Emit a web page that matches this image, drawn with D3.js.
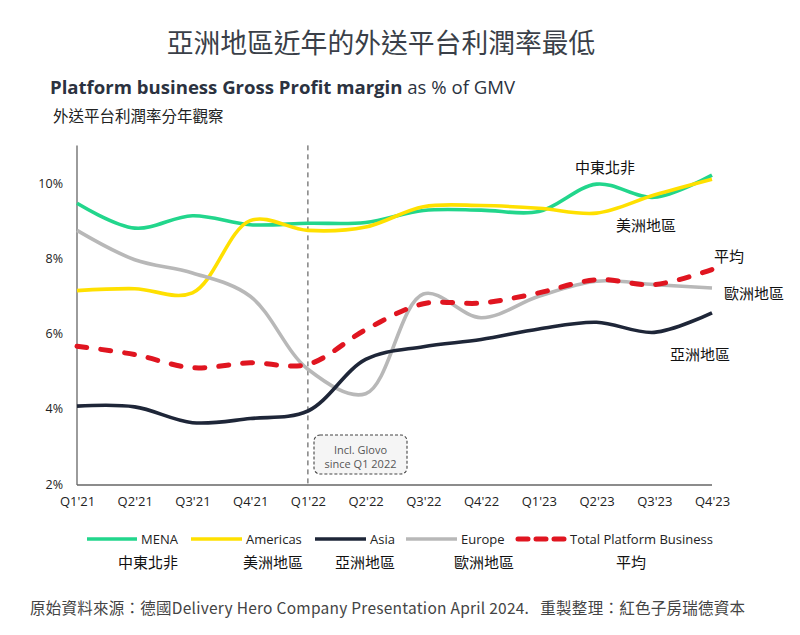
<!DOCTYPE html>
<html>
<head>
<meta charset="utf-8">
<script src="https://cdn.jsdelivr.net/npm/d3@7/dist/d3.min.js"></script>
<style>
  html, body { margin: 0; padding: 0; background: #fff; }
  svg { display: block; font-family: "Open Sans", "Noto Sans CJK TC", sans-serif; }
  .cjk { font-family: "Noto Sans CJK TC", "Noto Sans", sans-serif; }
</style>
</head>
<body>
<svg id="chart" width="800" height="635"></svg>
<script>
// ---------- data ----------
const quarters = ["Q1'21","Q2'21","Q3'21","Q4'21","Q1'22","Q2'22","Q3'22","Q4'22","Q1'23","Q2'23","Q3'23","Q4'23"];
const mena     = [9.46, 8.80, 9.13, 8.89, 8.93, 8.95, 9.27, 9.28, 9.24, 9.97, 9.62, 10.21];
const americas = [7.14, 7.19, 7.08, 9.00, 8.74, 8.83, 9.37, 9.40, 9.33, 9.20, 9.68, 10.10];
const asia     = [4.07, 4.05, 3.63, 3.74, 3.94, 5.31, 5.65, 5.84, 6.12, 6.30, 6.03, 6.55];
const europe   = [8.74, 7.96, 7.61, 6.99, 5.05, 4.40, 7.05, 6.42, 6.99, 7.39, 7.30, 7.21];
const total    = [5.66, 5.44, 5.09, 5.22, 5.18, 6.10, 6.79, 6.81, 7.08, 7.43, 7.30, 7.70];
const yTicks   = [2, 4, 6, 8, 10];
const seriesNames   = ["MENA", "Americas", "Asia", "Europe", "Total Platform Business"];
const seriesNamesZh = ["中東北非", "美洲地區", "亞洲地區", "歐洲地區", "平均"];

const series = [
  { name: seriesNames[0], zh: seriesNamesZh[0], values: mena,     color: "#22d68c", dash: null },
  { name: seriesNames[1], zh: seriesNamesZh[1], values: americas, color: "#ffe000", dash: null },
  { name: seriesNames[3], zh: seriesNamesZh[3], values: europe,   color: "#b8b8b8", dash: null },
  { name: seriesNames[2], zh: seriesNamesZh[2], values: asia,     color: "#1e2638", dash: null },
  { name: seriesNames[4], zh: seriesNamesZh[4], values: total,    color: "#e01520", dash: "10,14" }
];

// ---------- layout ----------
const svg = d3.select("#chart");
const x = d3.scalePoint().domain(quarters).range([77, 712]);
const y = d3.scaleLinear().domain([2, 10]).range([484, 183]);

// titles
svg.append("text").attr("class", "cjk")
  .attr("x", 381).attr("y", 41).attr("text-anchor", "middle").attr("dominant-baseline", "central")
  .attr("font-size", 26.8).attr("fill", "#3a3f48").text("亞洲地區近年的外送平台利潤率最低");

const sub = svg.append("text").attr("x", 50).attr("y", 94).attr("font-size", 18.6).attr("fill", "#2b3240")
  .attr("textLength", 465).attr("lengthAdjust", "spacingAndGlyphs");
sub.append("tspan").attr("font-weight", 700).text("Platform business Gross Profit margin");
sub.append("tspan").attr("font-weight", 400).text(" as % of GMV");

svg.append("text").attr("class", "cjk")
  .attr("x", 53).attr("y", 115).attr("dominant-baseline", "central")
  .attr("font-size", 15.5).attr("fill", "#222").text("外送平台利潤率分年觀察");

// axes
const yAxisG = svg.append("g").attr("transform", "translate(77,0)")
  .call(d3.axisLeft(y).tickValues(yTicks).tickSize(0).tickPadding(14).tickFormat(d => d + "%"));
yAxisG.select(".domain").remove();
yAxisG.selectAll("text").attr("font-size", 12.5).attr("fill", "#222").attr("font-family", "Open Sans");

svg.append("line").attr("x1", 77).attr("x2", 77).attr("y1", y(11)).attr("y2", y(2) + 1)
  .attr("stroke", "#666").attr("stroke-width", 1.3);

const xAxisG = svg.append("g").attr("transform", `translate(0,${y(2) + 1})`)
  .call(d3.axisBottom(x).tickSize(0).tickPadding(12));
xAxisG.select(".domain").attr("stroke", "#666").attr("stroke-width", 1.3)
  .attr("d", `M77,0H712`);
xAxisG.selectAll("text").attr("font-size", 13).attr("fill", "#222").attr("font-family", "Open Sans");

// vertical dashed marker at Q1'22
svg.append("line").attr("x1", x("Q1'22")).attr("x2", x("Q1'22"))
  .attr("y1", y(11)).attr("y2", y(2))
  .attr("stroke", "#444").attr("stroke-width", 1).attr("stroke-dasharray", "5,4");

// annotation box
svg.append("rect").attr("x", 314).attr("y", 435).attr("width", 93).attr("height", 39)
  .attr("rx", 6).attr("fill", "#f5f5f5").attr("stroke", "#444").attr("stroke-width", 1.1)
  .attr("stroke-dasharray", "3,2");
svg.append("text").attr("x", 360.5).attr("y", 449).attr("text-anchor", "middle").attr("dominant-baseline", "central")
  .attr("font-size", 11).attr("fill", "#555").text("Incl. Glovo");
svg.append("text").attr("x", 360.5).attr("y", 463).attr("text-anchor", "middle").attr("dominant-baseline", "central")
  .attr("font-size", 11).attr("fill", "#555").text("since Q1 2022");

// lines
const line = d3.line()
  .x((d, i) => x(quarters[i]))
  .y(d => y(d))
  .curve(d3.curveCatmullRom.alpha(0.5));

series.forEach(s => {
  svg.append("path").datum(s.values)
    .attr("d", line)
    .attr("fill", "none")
    .attr("stroke", s.color)
    .attr("stroke-width", s.dash ? 5 : 3.6)
    .attr("stroke-linecap", s.dash ? "round" : "butt")
    .attr("stroke-dasharray", s.dash);
});

// right-side labels
const rightLabels = [
  { t: seriesNamesZh[0], x: 575, y: 166 },
  { t: seriesNamesZh[1], x: 616, y: 224 },
  { t: seriesNamesZh[4], x: 714, y: 255 },
  { t: seriesNamesZh[3], x: 724, y: 292 },
  { t: seriesNamesZh[2], x: 670, y: 353 }
];
rightLabels.forEach(l => {
  svg.append("text").attr("class", "cjk").attr("x", l.x).attr("y", l.y)
    .attr("dominant-baseline", "central").attr("font-size", 15).attr("fill", "#111").text(l.t);
});

// legend
const legendItems = [
  { s: series[0], x0: 87,  x1: 137, zx: 148 },
  { s: series[1], x0: 191, x1: 242, zx: 273 },
  { s: series[3], x0: 315, x1: 366, zx: 365 },
  { s: series[2], x0: 406, x1: 457, zx: 484 },
  { s: series[4], x0: 518, x1: 566, zx: 631 }
];
legendItems.forEach(it => {
  svg.append("line").attr("x1", it.x0).attr("x2", it.x1).attr("y1", 539).attr("y2", 539)
    .attr("stroke", it.s.color).attr("stroke-width", it.s.dash ? 5 : 3.6)
    .attr("stroke-linecap", it.s.dash ? "round" : "butt")
    .attr("stroke-dasharray", it.s.dash ? "10,8" : null);
  svg.append("text").attr("x", it.x1 + 4).attr("y", 539).attr("dominant-baseline", "central")
    .attr("font-size", 13).attr("fill", "#222").text(it.s.name);
  svg.append("text").attr("class", "cjk").attr("x", it.zx).attr("y", 561).attr("text-anchor", "middle")
    .attr("dominant-baseline", "central").attr("font-size", 15).attr("fill", "#111").text(it.s.zh);
});

// source
svg.append("text").attr("class", "cjk").attr("x", 30).attr("y", 607).attr("dominant-baseline", "central")
  .attr("font-size", 15.5).attr("fill", "#444").style("white-space", "pre")
  .attr("textLength", 715).attr("lengthAdjust", "spacing")
  .text("原始資料來源：德國Delivery Hero Company Presentation April 2024.   重製整理：紅色子房瑞德資本");
</script>
</body>
</html>
